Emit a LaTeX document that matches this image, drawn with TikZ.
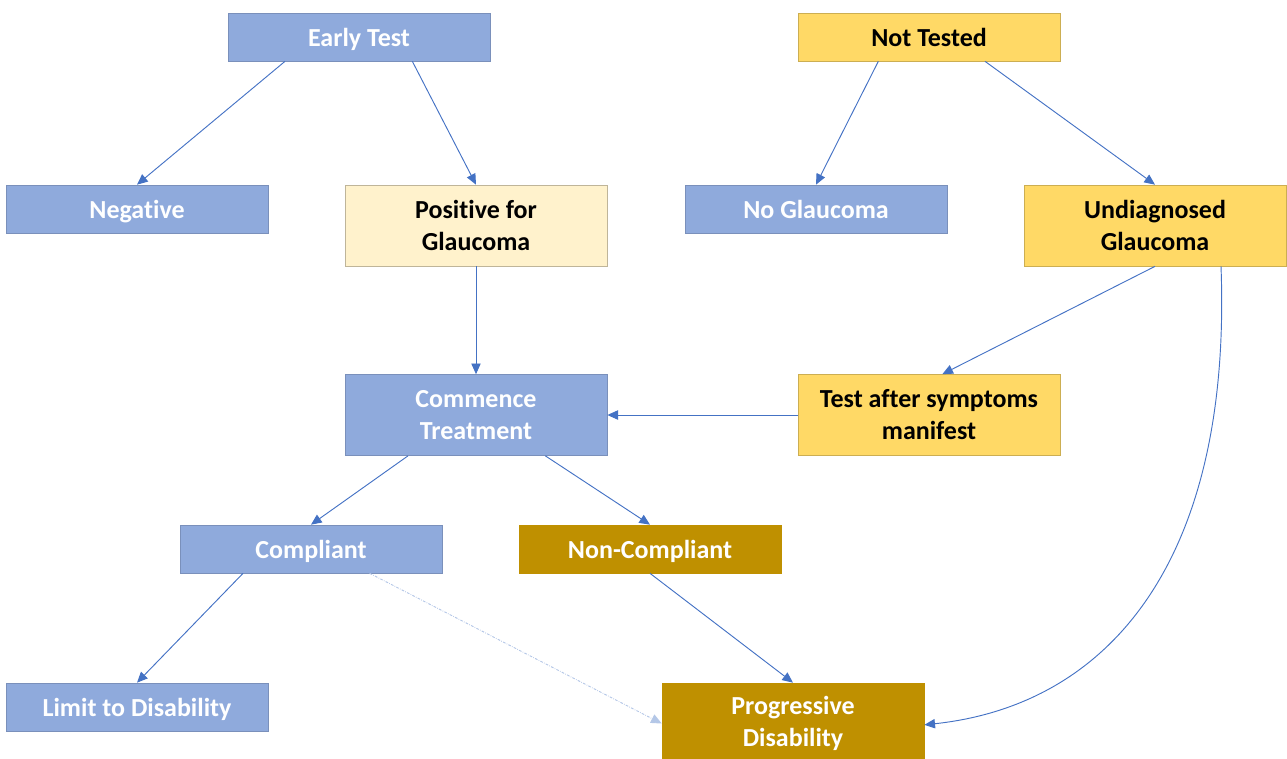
\documentclass[tikz,border=0pt]{standalone}
\usepackage{fontspec}
\setmainfont{Carlito}[Ligatures=NoCommon]
\usetikzlibrary{arrows.meta}
\definecolor{boxblue}{HTML}{8FAADC}
\definecolor{boxyellow}{HTML}{FFD966}
\definecolor{paleyellow}{HTML}{FFF2CC}
\definecolor{boxgold}{HTML}{BF9000}
\definecolor{arrowblue}{HTML}{4472C4}
\definecolor{lightarrow}{HTML}{B4C7E7}

\begin{document}
\begin{tikzpicture}[
      x=0.75pt, y=-0.75pt,
      every node/.style={inner sep=0pt,align=center,
        font=\fontsize{19.5}{24}\selectfont\bfseries},
      box/.style={rectangle,minimum width=196.5pt,minimum height=36pt,line width=0.5pt},
      single/.style={box,text height=14pt,text depth=0pt},
      tall/.style={box,minimum height=60.75pt},
      blue/.style={fill=boxblue,draw=boxblue!85!black,text=white},
      yellow/.style={fill=boxyellow,draw=boxyellow!80!black,text=black},
      pale/.style={fill=paleyellow,draw=paleyellow!75!black,text=black},
      gold/.style={fill=boxgold,draw=boxgold,text=white},
      arr/.style={draw=arrowblue,line width=0.7pt,-{Triangle[length=8pt,width=7pt]}},
      faint/.style={draw=lightarrow,line width=0.7pt,
        dash pattern=on 2pt off 1pt on 0.5pt off 1pt,-{Triangle[length=8pt,width=7pt]}}
    ]
      \useasboundingbox (0,0) rectangle (1287,758);

      % Top row: the two starting points
      \node[single,blue] (early) at (359,37) {Early Test};
      \node[single,yellow] (nottested) at (929,37) {Not Tested};

      % Outcomes of testing
      \node[single,blue] (negative) at (137,209) {Negative};
      \node[tall,pale] (positive) at (476,225.5) {Positive for\\Glaucoma};
      \node[single,blue] (noglauc) at (816,209) {No Glaucoma};
      \node[tall,yellow] (undiag) at (1155,225.5) {Undiagnosed\\Glaucoma};

      % Treatment
      \node[tall,blue] (commence) at (476,415) {Commence\\Treatment};
      \node[tall,yellow] (symptoms) at (929,415) {Test after symptoms\\manifest};

      \node[single,blue] (compliant) at (311,549) {Compliant};
      \node[single,gold] (noncompliant) at (650,549) {Non-Compliant};

      % End results
      \node[single,blue] (limit) at (137,707) {Limit to Disability};
      \node[tall,gold] (progressive) at (793,723.5) {Progressive\\Disability};

      % Connectors
      \draw[arr] ([xshift=-55.5pt]early.south) -- (negative.north);
      \draw[arr] ([xshift=40pt]early.south) -- (positive.north);
      \draw[arr] ([xshift=-38pt]nottested.south) -- (noglauc.north);
      \draw[arr] ([xshift=42pt]nottested.south) -- (undiag.north);
      \draw[arr] (positive.south) -- (commence.north);
      \draw[arr] (undiag.south) -- ([xshift=10pt]symptoms.north);
      \draw[arr] (symptoms.west) -- (commence.east);
      \draw[arr] ([xshift=49.5pt]undiag.south) .. controls (1232,560) and (1110,705) .. ([yshift=-1pt]progressive.east);
      \draw[arr] ([xshift=-51pt]commence.south) -- (compliant.north);
      \draw[arr] ([xshift=52pt]commence.south) -- (noncompliant.north);
      \draw[arr] ([xshift=-51pt]compliant.south) -- (limit.north);
      \draw[arr] (noncompliant.south) -- (progressive.north);
      \draw[faint] ([xshift=44pt]compliant.south) -- (progressive.west);
\end{tikzpicture}
\end{document}
